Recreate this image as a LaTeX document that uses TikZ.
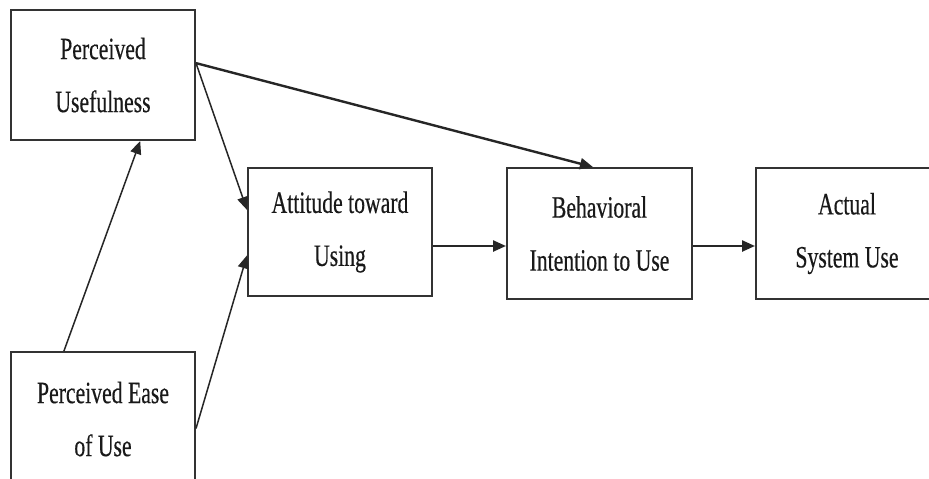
\documentclass[tikz,border=0pt]{standalone}
\usepackage{fontspec}
\setmainfont{Liberation Serif}[FakeStretch=0.7,FakeBold=0.4]
\usetikzlibrary{arrows.meta,calc}
\begin{document}
\begin{tikzpicture}[x=1pt,y=-1pt,
  box/.style={draw=black!80,line width=2pt,rectangle,align=center,inner sep=0pt,
    font={\fontsize{31}{53}\selectfont},text=black!90},
  link/.style={draw=black!85,line width=1.5pt,-{Triangle[length=13pt,width=11pt]}},
  thick link/.style={link,line width=2.4pt}]
\useasboundingbox (0,0) rectangle (929,479);
\fill[white] (0,0) rectangle (929,479);
\clip (0,0) rectangle (929,479);
\node[box,minimum width=184pt,minimum height=130pt] (pu) at (103,75) {Perceived\\Usefulness};
\node[box,minimum width=184pt,minimum height=134pt] (peu) at (103,419) {Perceived Ease\\of Use};
\node[box,minimum width=184pt,minimum height=128pt] (att) at (340,232) {Attitude toward\\Using};
\node[box,minimum width=185pt,minimum height=131pt] (bi) at (599.5,233.5) {Behavioral\\Intention to Use};
\node[box,minimum width=182pt,minimum height=131pt] (asu) at (847,233.5) {Actual\\System Use};
\coordinate (pur) at ($(pu.north east)!0.41!(pu.south east)$);
\draw[link] ($(peu.north west)!0.29!(peu.north east)$) -- ($(pu.south west)!0.70!(pu.south east)$);
\draw[link] (pur) -- ($(att.north west)!0.33!(att.south west)$);
\draw[link] ($(peu.north east)!0.57!(peu.south east)$) -- ($(att.north west)!0.68!(att.south west)$);
\draw[thick link] (pur) -- ($(bi.north west)!0.465!(bi.north east)$);
\draw[thick link] (att.east |- 0,246) -- (bi.west |- 0,246);
\draw[thick link] (bi.east |- 0,246) -- (asu.west |- 0,246);
\end{tikzpicture}
\end{document}
